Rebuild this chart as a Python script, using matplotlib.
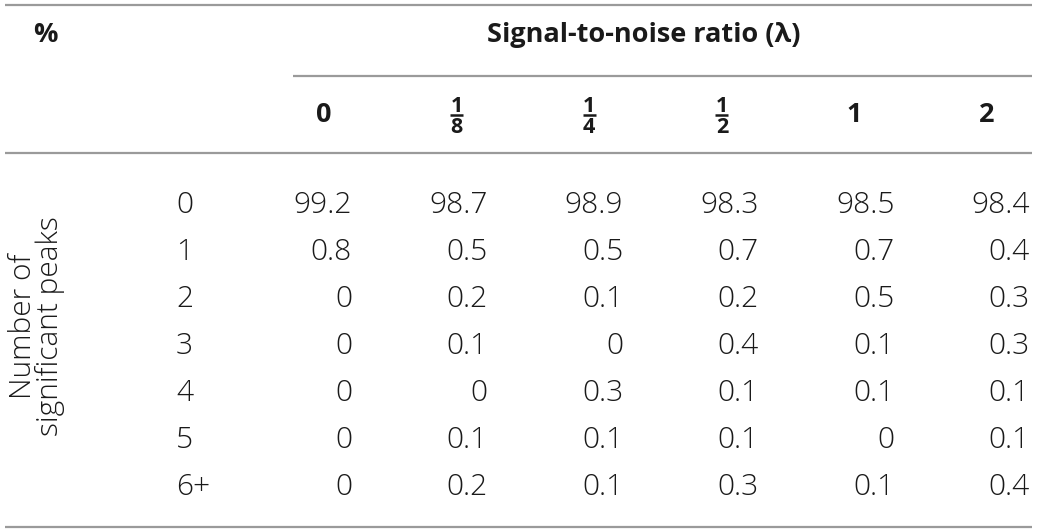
import matplotlib
matplotlib.use("Agg")
import matplotlib.pyplot as plt
from matplotlib import font_manager

# ---- data ----
snr_labels = [("0", None), ("1", "8"), ("1", "4"), ("1", "2"), ("1", None), ("2", None)]
peak_labels = ["0", "1", "2", "3", "4", "5", "6+"]
col_0 = [99.2, 0.8, 0, 0, 0, 0, 0]
col_1_8 = [98.7, 0.5, 0.2, 0.1, 0, 0.1, 0.2]
col_1_4 = [98.9, 0.5, 0.1, 0, 0.3, 0.1, 0.1]
col_1_2 = [98.3, 0.7, 0.2, 0.4, 0.1, 0.1, 0.3]
col_1 = [98.5, 0.7, 0.5, 0.1, 0.1, 0, 0.1]
col_2 = [98.4, 0.4, 0.3, 0.3, 0.1, 0.1, 0.4]
columns = [col_0, col_1_8, col_1_4, col_1_2, col_1, col_2]

title_corner = "%"
header_title = "Signal-to-noise ratio (λ)"
row_title = "Number of\nsignificant peaks"

# ---- fonts ----
names = {f.name for f in font_manager.fontManager.ttflist}
body_family = ["Open Sans", "DejaVu Sans"] if "Open Sans" in names else ["DejaVu Sans"]
bold_family = ["Open Sans", "DejaVu Sans"] if "Open Sans" in names else ["DejaVu Sans"]

W, H = 1037, 532
fig = plt.figure(figsize=(W / 100, H / 100), dpi=100)
ax = fig.add_axes([0, 0, 1, 1])
ax.set_xlim(0, W)
ax.set_ylim(H, 0)
ax.axis("off")

line_color = "#9a9a9a"
text_color = "#1a1a1a"

# rules
ax.plot([5, 1032], [5, 5], color=line_color, lw=1.6, solid_capstyle="butt")
ax.plot([293, 1032], [76, 76], color=line_color, lw=1.6, solid_capstyle="butt")
ax.plot([5, 1032], [153, 153], color=line_color, lw=1.6, solid_capstyle="butt")
ax.plot([5, 1032], [527, 527], color=line_color, lw=1.6, solid_capstyle="butt")

# header
hsize = 19.5
ax.text(33, 42, title_corner, fontsize=hsize, fontweight="bold", family=bold_family,
        ha="left", va="baseline", color=text_color)
ax.text(644, 42, header_title, fontsize=hsize, fontweight="bold", family=bold_family,
        ha="center", va="baseline", color=text_color)

hdr_x0, hdr_dx = 324, 132.6
hdr_base = 122
for i, (num, den) in enumerate(snr_labels):
    cx = hdr_x0 + i * hdr_dx
    if den is None:
        ax.text(cx, hdr_base, num, fontsize=hsize, fontweight="bold", family=bold_family,
                ha="center", va="baseline", color=text_color)
    else:
        ax.text(cx, 111.5, num, fontsize=15.5, fontweight="bold", family=bold_family,
                ha="center", va="baseline", color=text_color)
        ax.text(cx, 133, den, fontsize=15.5, fontweight="bold", family=bold_family,
                ha="center", va="baseline", color=text_color)
        ax.plot([cx - 6.5, cx + 6.5], [114.5, 114.5], color=text_color, lw=1.8,
                solid_capstyle="butt")

# body
row_base0, row_dy = 213, 47
col_r0, col_dr = 352, 135.6
bsize = 21.5


def fmt(v):
    return "0" if v == 0 else f"{v:.1f}"


for j, lab in enumerate(peak_labels):
    y = row_base0 + j * row_dy
    ax.text(176, y, lab, fontsize=bsize, fontweight="light", family=body_family,
            ha="left", va="baseline", color=text_color)
    for i, col in enumerate(columns):
        ax.text(col_r0 + i * col_dr, y, fmt(col[j]), fontsize=bsize, fontweight="light",
                family=body_family, ha="right", va="baseline", color=text_color)

ax.text(37, 326, row_title, fontsize=bsize, fontweight="light", family=body_family,
        rotation=90, ha="center", va="center", multialignment="center",
        linespacing=0.85, color=text_color)

fig.savefig("out.png", dpi=100)
